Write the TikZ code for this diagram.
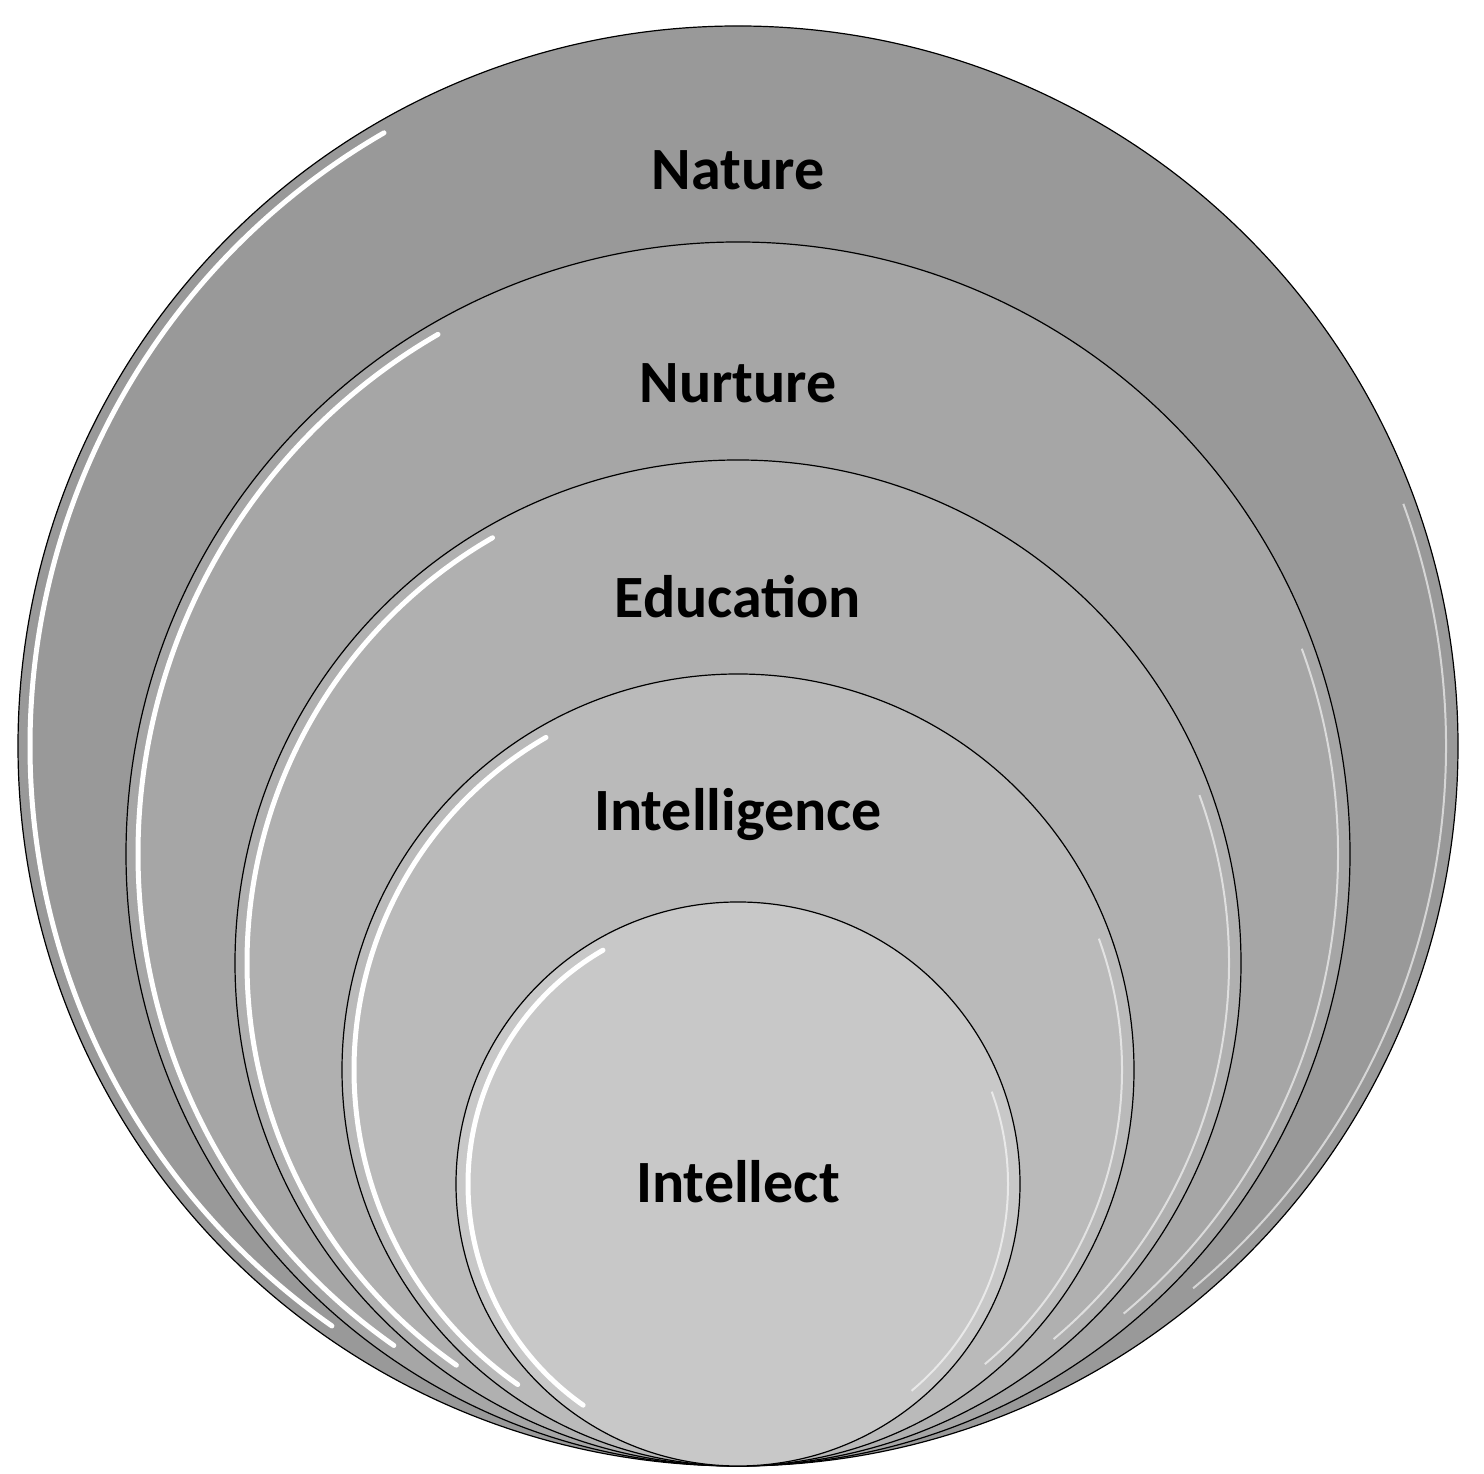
\documentclass[tikz,border=0pt]{standalone}
\usepackage{fontspec}
\setmainfont{Carlito}
\usetikzlibrary{calc}
\begin{document}
\begin{tikzpicture}[x=1pt,y=1pt,
  ring/.style={draw=black,line width=1.2pt},
  hl/.style={draw=white,line width=5pt,line cap=round},
  lbl/.style={font=\fontsize{60}{66}\selectfont\bfseries,text=black}]
\useasboundingbox (0,0) rectangle (1484,1474);
\def\by{8}
\foreach \r/\c [count=\i] in {720/999999,612/a6a6a6,503/b0b0b0,396/bababa,282/c8c8c8}{
  \definecolor{fc\i}{HTML}{\c}
  \fill[fc\i] (738,\by+\r) circle (\r);
  \draw[ring] (738,\by+\r) circle (\r);
  \draw[hl] ($(738,\by+\r)+(120:\r-12)$) arc (120:235:\r-12);
  \draw[draw=white,line width=2pt,opacity=0.6] ($(738,\by+\r)+(-50:\r-12)$) arc (-50:20:\r-12);
}
\node[lbl] (nature) at (738,1304) {Nature};
\node[lbl] (nurture) at (738,1091) {Nurture};
\node[lbl] (education) at (738,877) {Education};
\node[lbl] (intelligence) at (738,659) {Intelligence};
\node[lbl] (intellect) at (738,292) {Intellect};
\end{tikzpicture}
\end{document}
